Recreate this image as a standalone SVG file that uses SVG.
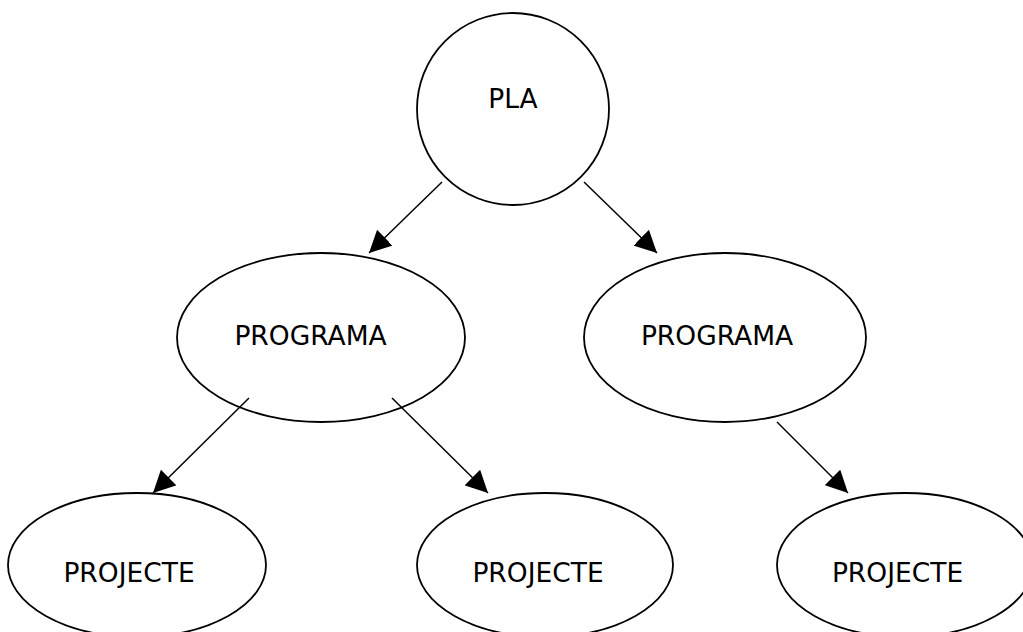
<svg xmlns="http://www.w3.org/2000/svg" width="1023" height="632" viewBox="0 0 1023 632">
<style>
.n{fill:#fff;stroke:#000;stroke-width:1.8}
.t{font-family:"DejaVu Sans",Verdana,sans-serif;font-size:26.5px;fill:#000;text-anchor:middle}
.c{stroke:#000;stroke-width:1.5;fill:none;marker-end:url(#ah)}
</style>
<defs>
<marker id="ah" markerUnits="userSpaceOnUse" markerWidth="22" markerHeight="22" viewBox="0 0 20 20" refX="20" refY="10" orient="auto">
<path d="M0,0 L20,10 L0,20 Z" fill="#000"/>
</marker>
</defs>
<rect width="1023" height="632" fill="#fff"/>
<g id="pla">
<circle class="n" cx="513" cy="109" r="96"/>
<text class="t" x="513" y="108">PLA</text>
</g>
<g id="programa1">
<ellipse class="n" cx="321" cy="337.5" rx="144" ry="84.5"/>
<text class="t" x="310.5" y="345">PROGRAMA</text>
</g>
<g id="programa2">
<ellipse class="n" cx="725" cy="337.5" rx="141" ry="84.5"/>
<text class="t" x="717" y="345">PROGRAMA</text>
</g>
<g id="projecte1">
<ellipse class="n" cx="137" cy="565" rx="129" ry="72"/>
<text class="t" x="129" y="582">PROJECTE</text>
</g>
<g id="projecte2">
<ellipse class="n" cx="545" cy="565" rx="128" ry="72"/>
<text class="t" x="538" y="582">PROJECTE</text>
</g>
<g id="projecte3">
<ellipse class="n" cx="905" cy="565" rx="128" ry="72"/>
<text class="t" x="897.5" y="582">PROJECTE</text>
</g>
<g id="connectors">
<path class="c" d="M442,182 L369,253"/>
<path class="c" d="M584,182 L657,253"/>
<path class="c" d="M249,398 L153,493"/>
<path class="c" d="M392,398 L488,493"/>
<path class="c" d="M777,422 L848,493"/>
</g>
</svg>
